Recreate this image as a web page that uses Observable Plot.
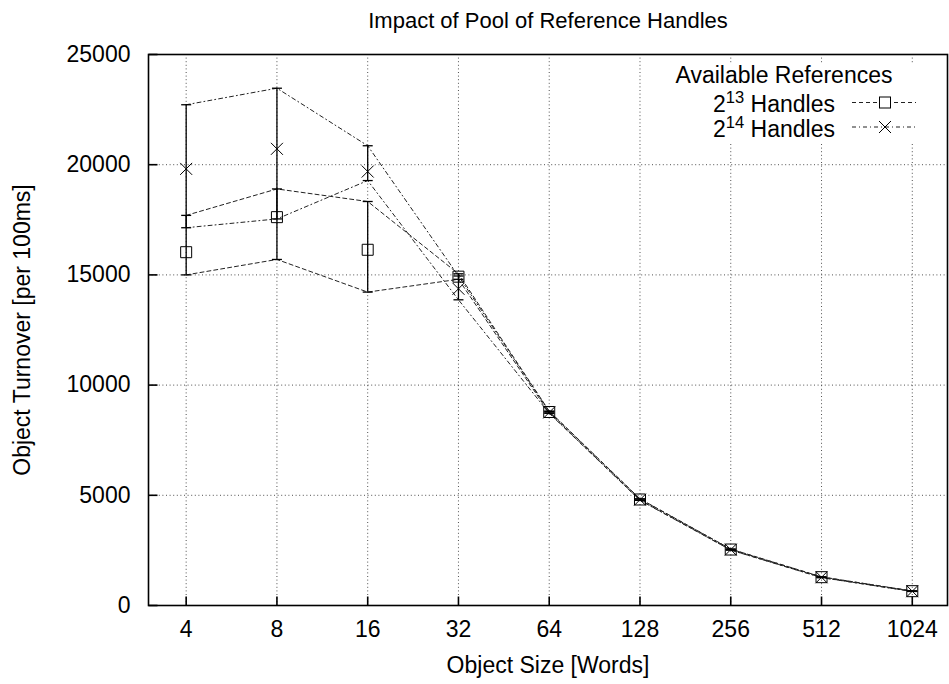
<!DOCTYPE html>
<html>
<head>
<meta charset="utf-8">
<script src="https://cdn.jsdelivr.net/npm/d3@7"></script>
<script src="https://cdn.jsdelivr.net/npm/@observablehq/plot@0.6"></script>
<style>
  html, body { margin: 0; padding: 0; background: #fff; }
  #chart svg { display: block; }
</style>
</head>
<body>
<div id="chart"></div>
<script>
// ---- data ----
const sizes = [4, 8, 16, 32, 64, 128, 256, 512, 1024];
const yTicks = [0, 5000, 10000, 15000, 20000, 25000];

const h13Mean = [16030, 17620, 16140, 14920, 8780, 4810, 2540, 1285, 650];
const h13Min  = [15000, 15700, 14220, 14800, 8740, 4780, 2520, 1270, 640];
const h13Max  = [17700, 18900, 18330, 15050, 8820, 4840, 2560, 1300, 660];

const h14Mean = [19810, 20720, 19690, 14370, 8760, 4800, 2535, 1280, 648];
const h14Min  = [17140, 17540, 19280, 13870, 8720, 4770, 2515, 1265, 638];
const h14Max  = [22720, 23470, 20860, 14950, 8800, 4830, 2555, 1295, 658];

const seriesNames = ["2^13 Handles", "2^14 Handles"];
const legendTitle = "Available References";
const title = "Impact of Pool of Reference Handles";
const xLabel = "Object Size [Words]";
const yLabel = "Object Turnover [per 100ms]";

const rows13 = sizes.map((s, i) => ({size: s, mean: h13Mean[i], lo: h13Min[i], hi: h13Max[i]}));
const rows14 = sizes.map((s, i) => ({size: s, mean: h14Mean[i], lo: h14Min[i], hi: h14Max[i]}));

// ---- custom symbols ----
const half = (size) => Math.sqrt(size / Math.PI);
const capSym = {draw(c, size) { const r = half(size); c.moveTo(-r, 0); c.lineTo(r, 0); }};
const squareSym = {draw(c, size) { const r = half(size); c.rect(-r, -r, 2 * r, 2 * r); }};
const timesSym = {draw(c, size) { const r = half(size); c.moveTo(-r, -r); c.lineTo(r, r); c.moveTo(r, -r); c.lineTo(-r, r); }};
const tickUpSym = {draw(c, size) { const r = half(size); c.moveTo(0, 0); c.lineTo(0, -r); }};
const tickRightSym = {draw(c, size) { const r = half(size); c.moveTo(0, 0); c.lineTo(r, 0); }};

const dash13 = "4,3";
const dash14 = "4,3,1,3";
const lineColor = "#222";
const FONT = 23;

// ---- legend (function mark) ----
function legend(index, scales, values, dim) {
  const right = dim.width - dim.marginRight;
  const top = dim.marginTop;
  const g = d3.create("svg:g").attr("font-size", FONT);
  g.append("rect").attr("x", right - 287).attr("y", top + 10).attr("width", 270).attr("height", 78).attr("fill", "white");
  g.append("text").attr("x", right - 163).attr("y", top + 29).attr("text-anchor", "middle").text(legendTitle);
  const styles = [{dash: dash13, sym: "square"}, {dash: dash14, sym: "times"}];
  seriesNames.forEach((name, k) => {
    const base = top + 58 + k * 24.5;
    const ly = base - 9.5;
    const [b, e] = name.split(" ")[0].split("^");
    const rest = name.slice(name.indexOf(" "));
    const t = g.append("text").attr("x", right - 112).attr("y", base).attr("text-anchor", "end");
    t.append("tspan").text(b);
    t.append("tspan").attr("dy", -9).attr("font-size", FONT * 0.72).text(e);
    t.append("tspan").attr("dy", 9).text(rest);
    g.append("line").attr("x1", right - 95).attr("x2", right - 31).attr("y1", ly).attr("y2", ly)
      .attr("stroke", lineColor).attr("stroke-dasharray", styles[k].dash);
    const cx = right - 62, r = 5.5;
    if (styles[k].sym === "square") {
      g.append("rect").attr("x", cx - r).attr("y", ly - r).attr("width", 2 * r).attr("height", 2 * r)
        .attr("fill", "white").attr("stroke", "#000");
    } else {
      g.append("path").attr("d", `M${cx - 6},${ly - 6}L${cx + 6},${ly + 6}M${cx + 6},${ly - 6}L${cx - 6},${ly + 6}`)
        .attr("stroke", "#000").attr("fill", "none");
    }
  });
  return g.node();
}

const gridStyle = {stroke: "#333", strokeOpacity: 0.85, strokeWidth: 1, strokeDasharray: "1,2.6"};

const chart = Plot.plot({
  width: 949,
  height: 684,
  marginLeft: 148,
  marginRight: 2,
  marginTop: 54,
  marginBottom: 79,
  style: {fontFamily: "'Liberation Sans', Arial, Helvetica, sans-serif", fontSize: FONT + "px", color: "#000", background: "#fff"},
  x: {type: "log", base: 2, domain: [3, 1340], axis: null},
  y: {domain: [0, 25000], axis: null},
  marks: [
    Plot.gridX(sizes, {...gridStyle}),
    Plot.gridY(yTicks, {...gridStyle}),
    Plot.axisX(sizes, {tickFormat: d => String(d), tickSize: 0, tickPadding: 15, label: null, fontSize: FONT}),
    Plot.axisY(yTicks, {tickFormat: d => String(d), tickSize: 0, tickPadding: 18, label: null, fontSize: FONT}),
    // min/max lines
    Plot.line(rows13, {x: "size", y: "lo", stroke: lineColor, strokeWidth: 1, strokeDasharray: dash13}),
    Plot.line(rows13, {x: "size", y: "hi", stroke: lineColor, strokeWidth: 1, strokeDasharray: dash13}),
    Plot.line(rows14, {x: "size", y: "lo", stroke: lineColor, strokeWidth: 1, strokeDasharray: dash14}),
    Plot.line(rows14, {x: "size", y: "hi", stroke: lineColor, strokeWidth: 1, strokeDasharray: dash14}),
    // error bars
    Plot.ruleX(rows13, {x: "size", y1: "lo", y2: "hi", stroke: "#000", strokeWidth: 1.3}),
    Plot.ruleX(rows14, {x: "size", y1: "lo", y2: "hi", stroke: "#000", strokeWidth: 1.3}),
    Plot.dot(rows13, {x: "size", y: "lo", symbol: capSym, r: 5, stroke: "#000", strokeWidth: 1.3, fill: "none"}),
    Plot.dot(rows13, {x: "size", y: "hi", symbol: capSym, r: 5, stroke: "#000", strokeWidth: 1.3, fill: "none"}),
    Plot.dot(rows14, {x: "size", y: "lo", symbol: capSym, r: 5, stroke: "#000", strokeWidth: 1.3, fill: "none"}),
    Plot.dot(rows14, {x: "size", y: "hi", symbol: capSym, r: 5, stroke: "#000", strokeWidth: 1.3, fill: "none"}),
    // mean markers
    Plot.dot(rows13, {x: "size", y: "mean", symbol: squareSym, r: 5.5, stroke: "#000", strokeWidth: 1, fill: "none"}),
    Plot.dot(rows14, {x: "size", y: "mean", symbol: timesSym, r: 6, stroke: "#000", strokeWidth: 1, fill: "none"}),
    // frame and inward ticks
    Plot.frame({stroke: "#000", strokeWidth: 1.6}),
    Plot.dot(sizes, {x: d => d, frameAnchor: "bottom", symbol: tickUpSym, r: 9, stroke: "#000", strokeWidth: 1.6, fill: "none"}),
    Plot.dot(yTicks, {y: d => d, frameAnchor: "left", symbol: tickRightSym, r: 9, stroke: "#000", strokeWidth: 1.6, fill: "none"}),
    // titles
    Plot.text([title], {text: d => d, frameAnchor: "top", dy: -34, lineAnchor: "middle", fontSize: 22}),
    Plot.text([xLabel], {text: d => d, frameAnchor: "bottom", dy: 60, lineAnchor: "middle", fontSize: FONT}),
    Plot.text([yLabel], {text: d => d, frameAnchor: "left", dx: -126, rotate: -90, textAnchor: "middle", lineAnchor: "middle", fontSize: FONT}),
    legend
  ]
});
document.getElementById("chart").appendChild(chart);
</script>
</body>
</html>
